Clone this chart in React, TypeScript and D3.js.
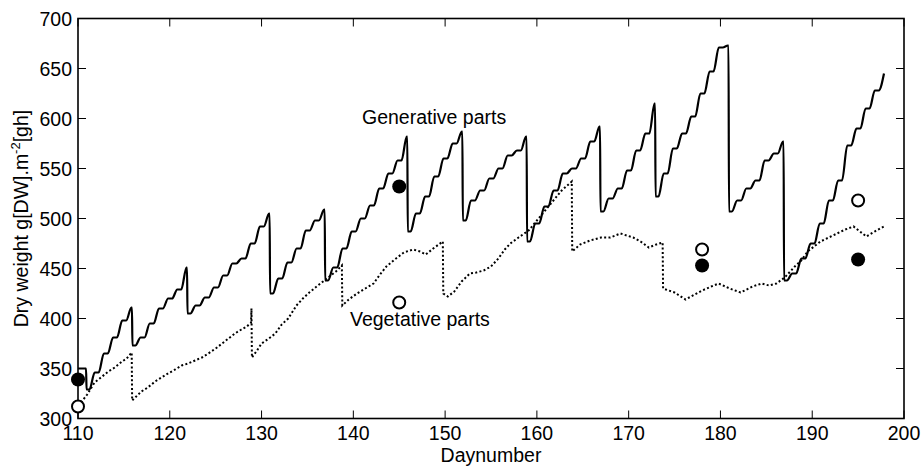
import * as d3 from "d3";

// generative parts: level reached after each day's growth step
const genDays = [
  110, 111, 112, 113, 114, 115, 116, 117, 118, 119, 120, 121, 122, 123, 124, 125, 126, 127, 128, 129,
  130, 131, 132, 133, 134, 135, 136, 137, 138, 139, 140, 141, 142, 143, 144, 145, 146, 147, 148, 149,
  150, 151, 152, 153, 154, 155, 156, 157, 158, 159, 160, 161, 162, 163, 164, 165, 166, 167, 168, 169,
  170, 171, 172, 173, 174, 175, 176, 177, 178, 179, 180, 181, 182, 183, 184, 185, 186, 187, 188, 189,
  190, 191, 192, 193, 194, 195, 196, 197,
];
const genLevels = [
  350, 346, 365, 381, 398, 411, 381, 395, 410, 420, 429, 451, 413, 421, 431, 443, 455, 460, 475, 492,
  505, 440, 456, 470, 488, 498, 509, 451, 470, 487, 500, 513, 530, 545, 558, 582, 505, 522, 542, 560,
  575, 587, 518, 528, 540, 550, 563, 568, 582, 495, 512, 528, 545, 550, 560, 577, 592, 520, 530, 548,
  568, 585, 615, 545, 570, 585, 602, 625, 647, 671, 673, 518, 530, 538, 558, 565, 577, 445, 460, 475,
  495, 518, 538, 573, 590, 610, 628, 645,
];
// harvest days and the level right after the harvest
const harvestDays = [110, 115, 121, 130, 136, 145, 151, 158, 166, 172, 180, 186];
const harvestLevels = [329, 373, 405, 425, 438, 487, 498, 477, 507, 522, 507, 438];

// vegetative parts
const vegDays = [
  110.0, 110.5, 111.0, 111.8, 112.5, 113.3, 114.0, 114.8, 115.3, 115.85, 115.9, 116.9, 117.6, 118.4,
  119.1, 119.8, 120.6, 121.3, 122.0, 122.75, 123.5, 124.2, 125.0, 125.7, 126.4, 127.1, 127.8, 128.4,
  128.85, 128.9, 128.95, 129.5, 130.0, 130.8, 131.5, 132.2, 132.9, 133.8, 134.5, 135.2, 136.0, 136.7,
  137.4, 138.1, 138.75, 138.8, 139.5, 140.4, 141.3, 142.2, 142.9, 143.6, 144.5, 145.5, 146.5, 147.3,
  147.9, 148.7, 149.75, 149.8, 150.3, 151.0, 151.8, 152.7, 153.4, 154.2, 155.0, 155.8, 156.5, 157.1,
  158.0, 159.1, 160.0, 160.9, 161.8, 162.7, 163.8, 163.85, 164.7, 165.8, 167.0, 168.0, 169.1, 170.5,
  171.3, 172.2, 173.0, 173.7, 173.75, 175.0, 176.2, 177.2, 178.0, 179.0, 179.8, 181.0, 182.2, 183.5,
  184.5, 185.3, 186.1, 187.0, 188.1, 188.8, 189.5, 190.2, 190.9, 191.8, 192.7, 193.6, 194.5, 195.2,
  195.9, 196.8, 197.8,
];
const vegValues = [
  313, 318, 324, 336, 341, 347, 351, 357, 360, 366, 318, 327, 331, 337,
  341, 345, 349, 353, 355, 358, 361, 365, 370, 375, 380, 385, 389, 392,
  396, 410, 361, 368, 375, 380, 385, 394, 400, 413, 420, 426, 432, 437,
  442, 447, 453, 413, 419, 425, 430, 435, 444, 452, 459, 466, 469, 467,
  464, 470, 477, 425, 422, 427, 437, 445, 446, 448, 452, 460, 469, 475,
  481, 488, 498, 508, 518, 528, 537, 467, 474, 478, 481, 481, 485, 481,
  477, 471, 474, 476, 430, 426, 419, 424, 428, 432, 435, 430, 426, 432,
  435, 433, 435, 441, 452, 458, 467, 472, 477, 481, 485, 489, 492, 487,
  482, 487, 492,
];

// measurements
const measDays = [110, 145, 178, 195];
const measGenerative = [339, 532, 453, 459];
const measVegetative = [312, 416, 469, 518];

const xTicks = [110, 120, 130, 140, 150, 160, 170, 180, 190, 200];
const yTicks = [300, 350, 400, 450, 500, 550, 600, 650, 700];

const W = 923;
const H = 469;
const plot = { left: 78, right: 904, top: 18.5, bottom: 418.5 };
const font = "'Liberation Sans', Arial, sans-serif";
const fs = 19.5;
const tickLen = 8;

export default function App() {
  const x = d3.scaleLinear().domain([110, 200]).range([plot.left, plot.right]);
  const y = d3.scaleLinear().domain([300, 700]).range([plot.bottom, plot.top]);

  // generative curve: one growth step per day, then harvest drops
  const genPoints: [number, number][] = [];
  let level = genLevels[0];
  genDays.forEach((day, i) => {
    if (i === 0) {
      genPoints.push([day, level]);
    } else {
      genPoints.push([day + 0.25, level]);
      genPoints.push([day + 0.82, genLevels[i]]);
      level = genLevels[i];
    }
    const h = harvestDays.indexOf(day);
    if (h >= 0) {
      genPoints.push([day + 0.88, level]);
      genPoints.push([day + 0.93, harvestLevels[h]]);
      level = harvestLevels[h];
    }
  });

  const line = d3
    .line<[number, number]>()
    .x((d) => x(d[0]))
    .y((d) => y(d[1]))
    .curve(d3.curveMonotoneX);

  const vegPoints: [number, number][] = vegDays.map((d, i) => [d, vegValues[i]]);
  const vegLine = d3
    .line<[number, number]>()
    .x((d) => x(d[0]))
    .y((d) => y(d[1]));

  return (
    <svg
      width={W}
      height={H}
      style={{ position: "absolute", left: 0, top: 0, background: "#fff" }}
      fontFamily={font}
      fontSize={fs}
    >
      <rect width={W} height={H} fill="#fff" />

      {/* ticks, inward on all four sides */}
      {xTicks.map((t) => (
        <g key={"x" + t}>
          <line x1={x(t)} x2={x(t)} y1={plot.bottom} y2={plot.bottom - tickLen} stroke="#000" strokeWidth={1} />
          <line x1={x(t)} x2={x(t)} y1={plot.top} y2={plot.top + tickLen} stroke="#000" strokeWidth={1} />
          <text x={x(t)} y={440} textAnchor="middle" fill="#000">
            {t}
          </text>
        </g>
      ))}
      {yTicks.map((t) => (
        <g key={"y" + t}>
          <line x1={plot.left} x2={plot.left + tickLen} y1={y(t)} y2={y(t)} stroke="#000" strokeWidth={1} />
          <line x1={plot.right} x2={plot.right - tickLen} y1={y(t)} y2={y(t)} stroke="#000" strokeWidth={1} />
          <text x={72} y={y(t)} dy="0.36em" textAnchor="end" fill="#000">
            {t}
          </text>
        </g>
      ))}

      <rect
        x={plot.left}
        y={plot.top}
        width={plot.right - plot.left}
        height={plot.bottom - plot.top}
        fill="none"
        stroke="#000"
        strokeWidth={1.6}
      />

      <path d={vegLine(vegPoints) ?? ""} fill="none" stroke="#000" strokeWidth={2} strokeDasharray="2,2.3" />
      <path d={line(genPoints) ?? ""} fill="none" stroke="#000" strokeWidth={2.2} strokeLinejoin="round" />

      {measDays.map((d, i) => (
        <g key={"m" + d}>
          <circle cx={x(d)} cy={y(measGenerative[i])} r={7} fill="#000" />
          <circle cx={x(d)} cy={y(measVegetative[i])} r={6} fill="#fff" stroke="#000" strokeWidth={2} />
        </g>
      ))}

      <text x={362} y={124} fill="#000">
        Generative parts
      </text>
      <text x={350} y={326} fill="#000">
        Vegetative parts
      </text>

      <text x={(plot.left + plot.right) / 2} y={462} textAnchor="middle" fill="#000">
        Daynumber
      </text>
      <text transform={`translate(28, ${(plot.top + plot.bottom) / 2}) rotate(-90)`} textAnchor="middle" fill="#000">
        Dry weight g[DW].m
        <tspan dy={-8} fontSize={13}>
          -2
        </tspan>
        <tspan dy={8}>[gh]</tspan>
      </text>
    </svg>
  );
}
